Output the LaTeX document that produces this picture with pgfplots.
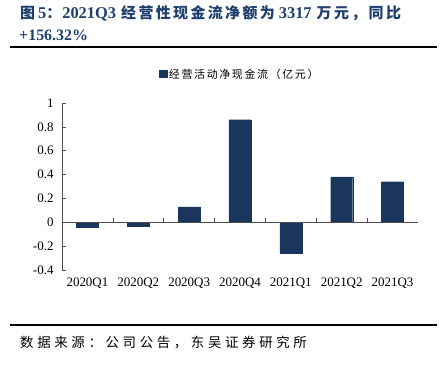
\documentclass[border=0pt]{standalone}
\usepackage{pgfplots}
\pgfplotsset{compat=1.18}
\usepackage{fontspec}
\setmainfont{Liberation Serif}
\newfontfamily\cjkt[LetterSpace=16]{Noto Sans CJK SC}
\newfontfamily\cjkl[LetterSpace=15]{Noto Sans CJK SC}
\newfontfamily\cjks[LetterSpace=27]{Noto Sans CJK SC}
\newcommand\tc[1]{{\cjkt\bfseries #1}}
\newcommand\tl[1]{{\fontsize{16.5}{16}\selectfont\rmfamily\bfseries #1}}
\definecolor{titleblue}{HTML}{1F3F6E}
\definecolor{barblue}{HTML}{1B365D}
\begin{document}
\begin{tikzpicture}
\useasboundingbox (0bp,0bp) rectangle (442bp,-367bp);
\node[anchor=west,text=titleblue,inner sep=0pt,font=\fontsize{15}{16}\selectfont] at (20bp,-13bp) {\tc{图}\hspace{3bp}\tl{5}\tc{：}\hspace{1bp}\tl{2021Q3}\hspace{5bp}\tc{经营性现金流净额为}\hspace{4bp}\tl{3317}\hspace{5bp}\tc{万元，同比}};
\node[anchor=west,text=titleblue,inner sep=0pt,font=\fontsize{16}{16}\selectfont\bfseries] at (19bp,-35bp) {+156.32\%};
\draw[line width=1.3bp] (10bp,-47bp) -- (437bp,-47bp);
\draw[line width=1.3bp] (10bp,-325bp) -- (437bp,-325bp);
\node[anchor=west,inner sep=0pt,font=\cjks\fontsize{13.5}{16}\selectfont] at (20bp,-343bp) {数据来源：公司公告，东吴证券研究所};
\begin{axis}[
  at={(62bp,-270bp)}, anchor=south west,
  scale only axis, width=356bp, height=167bp,
  xmin=-0.5, xmax=6.5, ymin=-0.4, ymax=1,
  ytick={-0.4,-0.2,0,0.2,0.4,0.6,0.8,1},
  yticklabel style={/pgf/number format/fixed,/pgf/number format/assume math mode=true},
  xtick={0,...,6},
  xticklabels={2020Q1,2020Q2,2020Q3,2020Q4,2021Q1,2021Q2,2021Q3},
  axis x line*=bottom,
  x axis line style={draw=none},
  x tick style={draw=none},
  axis y line*=left,
  y axis line style={black!70, line width=0.6bp},
  y tick style={black!70, line width=0.6bp},
  major tick length=4bp,
  tick align=inside,
  ticklabel style={font=\fontsize{13}{14}\selectfont},
  yticklabel style={xshift=-5bp},
  xticklabel style={yshift=-4bp},
  legend style={at={(0.5,1.17)}, anchor=center, draw=none, fill=none,
    font=\cjkl\fontsize{11}{12}\selectfont, legend cell align=left,
    inner sep=0pt},
  legend image code/.code={\fill[barblue] (0,-0.1cm) rectangle (0.25cm,0.15cm);},
  clip=false,
]
\addplot[ybar, bar width=22bp, fill=barblue, draw=barblue] coordinates {
 (0,-0.04) (1,-0.035) (2,0.13) (3,0.86) (4,-0.26) (5,0.38) (6,0.34)};
\addlegendentry{经营活动净现金流（亿元）}
\draw[black!70, line width=0.6bp] (axis cs:-0.5,0) -- (axis cs:6.5,0);
\pgfplotsinvokeforeach{0.5,1.5,2.5,3.5,4.5,5.5}{\draw[black!70, line width=0.6bp] (axis cs:#1,0) -- (axis cs:#1,0.035);}
\end{axis}
\end{tikzpicture}
\end{document}
